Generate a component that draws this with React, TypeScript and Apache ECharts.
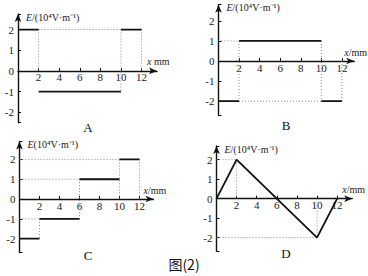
import React, { useEffect, useRef } from "react";
import * as echarts from "echarts";

// ---- data ----
const xTickLabels = [2, 4, 6, 8, 10, 12];
const yTickLabels = [-2, -1, 0, 1, 2];

// A: piecewise constant
const aEdges = [0, 2, 10, 12];
const aValues = [2, -1, 2];
const aGuides = [
  [[2, 2], [2, 0]],
  [[10, 2], [10, -1]],
  [[12, 2], [12, 0]],
  [[2, 2], [10, 2]],
];

// B: piecewise constant
const bEdges = [0, 2, 10, 12];
const bValues = [-2, 1, -2];
const bGuides = [
  [[0, 1], [2, 1]],
  [[2, 1], [2, -2]],
  [[10, 1], [10, -2]],
  [[12, 0], [12, -2]],
  [[2, -2], [10, -2]],
];

// C: piecewise constant
const cEdges = [0, 2, 6, 10, 12];
const cValues = [-2, -1, 1, 2];
const cGuides = [
  [[0, 2], [10, 2]],
  [[0, 1], [6, 1]],
  [[0, -1], [2, -1]],
  [[2, -1], [2, -2]],
  [[6, 1], [6, -1]],
  [[10, 2], [10, 0]],
  [[12, 2], [12, 0]],
];

// D: piecewise linear
const dX = [0, 2, 10, 12];
const dY = [0, 2, -2, 0];
const dGuides = [
  [[0, 2], [2, 2]],
  [[2, 2], [2, 0]],
  [[0, -2], [10, -2]],
  [[10, 0], [10, -2]],
];

const panelLetters = ["A", "B", "C", "D"];
const yNames = ["E/(10⁴V·m⁻¹)", "E/(10⁴V·m⁻¹)", "E(10⁴V·m⁻¹)", "E/(10⁴V·m⁻¹)"];
const xNames = [" mm", "/mm", "/mm", "/mm"];
const caption = "图(2)";

const FONT = "Liberation Serif";

export default function App() {
  const ref = useRef<HTMLDivElement>(null);
  useEffect(() => {
    if (!ref.current) return;
    const chart = echarts.init(ref.current, null, { renderer: "svg" });

    const grids = [
      { left: 18, top: 14, width: 139, height: 108.7 },
      { left: 218.5, top: 4.7, width: 138.6, height: 110.6 },
      { left: 19.5, top: 141.6, width: 134, height: 110.9 },
      { left: 216.5, top: 146, width: 135.7, height: 105.3 },
    ];
    const xMax = [13.5, 13.2, 13.4, 13.5];
    const yMax = [2.75, 2.8, 2.9, 2.7];
    const yMin = [-2.5, -2.7, -2.7, -2.7];

    const xAxes = grids.map((g, i) => ({
      type: "value",
      gridIndex: i,
      min: 0,
      max: xMax[i],
      interval: 2,
      position: "bottom",
      offset: -(g.height * (0 - yMin[i])) / (yMax[i] - yMin[i]),
      splitLine: { show: false },
      axisLine: {
        onZero: false,
        symbol: ["none", "arrow"],
        symbolSize: [5, 8],
        lineStyle: { color: "#111", width: 1.4 },
      },
      axisTick: { show: true, inside: true, length: 3, lineStyle: { color: "#111" } },
      axisLabel: {
        margin: 1,
        fontFamily: FONT,
        fontSize: 11,
        color: "#1a1a1a",
        showMaxLabel: false,
        formatter: (v: number) => (xTickLabels.includes(v) ? String(v) : ""),
      },
      name: "{i|x}" + xNames[i],
      nameLocation: "end",
      nameGap: -10,
      nameTextStyle: {
        fontFamily: FONT,
        fontSize: 10,
        color: "#1a1a1a",
        verticalAlign: "bottom",
        align: "left",
        padding: [0, 0, 4, 0],
        rich: { i: { fontStyle: "italic", fontFamily: FONT, fontSize: 10, color: "#1a1a1a" } },
      },
    }));

    const yAxes = grids.map((_, i) => ({
      type: "value",
      gridIndex: i,
      min: yMin[i],
      max: yMax[i],
      splitNumber: 5,
      splitLine: { show: false },
      axisLine: {
        onZero: false,
        symbol: ["none", "arrow"],
        symbolSize: [5, 8],
        lineStyle: { color: "#111", width: 1.4 },
      },
      axisTick: { show: true, inside: true, length: 3, lineStyle: { color: "#111" } },
      axisLabel: {
        margin: 4,
        fontFamily: FONT,
        fontSize: 11,
        color: "#1a1a1a",
        formatter: (v: number) => (yTickLabels.includes(v) ? String(v) : ""),
      },
      name: "{i|E}" + yNames[i].slice(1),
      nameLocation: "end",
      nameGap: -3,
      nameTextStyle: {
        fontFamily: FONT,
        fontSize: 10,
        color: "#1a1a1a",
        align: "left",
        verticalAlign: "middle",
        padding: [0, 0, 0, 8],
        rich: { i: { fontStyle: "italic", fontFamily: FONT, fontSize: 10, color: "#1a1a1a" } },
      },
    }));

    const series: any[] = [];
    const guideSets = [aGuides, bGuides, cGuides, dGuides];
    guideSets.forEach((set, i) => {
      set.forEach((seg) => {
        series.push({
          type: "line",
          xAxisIndex: i,
          yAxisIndex: i,
          data: seg,
          symbol: "none",
          silent: true,
          lineStyle: { color: "#888", width: 1, type: [1, 2] },
          z: 1,
        });
      });
    });

    const stepSets: [number[], number[]][] = [
      [aEdges, aValues],
      [bEdges, bValues],
      [cEdges, cValues],
    ];
    stepSets.forEach(([edges, values], i) => {
      values.forEach((v, k) => {
        series.push({
          type: "line",
          xAxisIndex: i,
          yAxisIndex: i,
          data: [
            [edges[k], v],
            [edges[k + 1], v],
          ],
          symbol: "none",
          lineStyle: { color: "#111", width: 1.8 },
          z: 3,
        });
      });
    });
    series.push({
      type: "line",
      xAxisIndex: 3,
      yAxisIndex: 3,
      data: dX.map((x, k) => [x, dY[k]]),
      symbol: "none",
      lineStyle: { color: "#111", width: 1.8 },
      z: 3,
    });

    const letterPos = [
      [88, 127],
      [286, 125],
      [88, 255],
      [286, 253],
    ];

    chart.setOption({
      animation: false,
      backgroundColor: "#fff",
      grid: grids,
      xAxis: xAxes,
      yAxis: yAxes,
      series,
      graphic: [
        ...panelLetters.map((t, i) => ({
          type: "text",
          x: letterPos[i][0],
          y: letterPos[i][1],
          style: {
            text: t,
            fontFamily: FONT,
            fontSize: 13,
            fill: "#111",
            textAlign: "center",
            textVerticalAlign: "middle",
          },
        })),
        {
          type: "text",
          x: 184,
          y: 264,
          style: {
            text: caption,
            fontFamily: "Noto Sans CJK SC",
            fontSize: 14,
            fill: "#111",
            textAlign: "center",
            textVerticalAlign: "middle",
          },
        },
      ],
    });
    return () => chart.dispose();
  }, []);
  return (
    <div
      ref={ref}
      style={{ position: "fixed", left: 0, top: 0, width: 368, height: 276 }}
    />
  );
}
